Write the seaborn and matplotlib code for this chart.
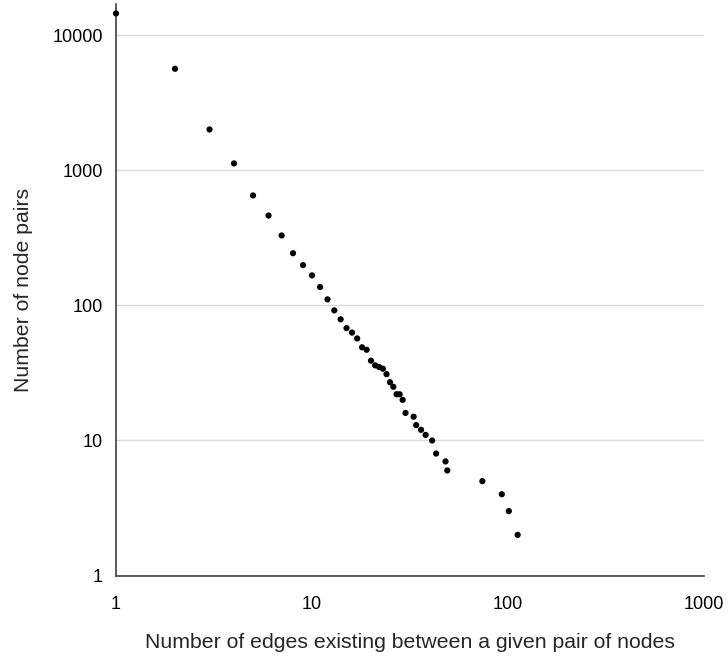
import seaborn as sns
import matplotlib.pyplot as plt
import pandas as pd

sns.set_style('white')
plt.rcParams['font.family'] = ['Liberation Sans', 'DejaVu Sans']

# edges between a pair of nodes vs number of such pairs
edges = [1, 2, 3, 4, 5, 6, 7, 8, 9, 10, 11, 12, 13, 14, 15, 16, 17, 18,
         19, 20, 21, 22, 23, 24, 25, 26, 27, 28, 29, 30,
         33, 34, 36, 38, 41, 43, 48, 49, 74, 93, 101, 112]
pairs = [14560, 5665, 2013, 1128, 653, 464, 330, 244, 199, 167, 137, 111, 92, 79, 68, 63, 57, 49,
         47, 39, 36, 35, 34, 31, 27, 25, 22, 22, 20, 16,
         15, 13, 12, 11, 10, 8, 7, 6, 5, 4, 3, 2]
xticks = [1, 10, 100, 1000]
yticks = [1, 10, 100, 1000, 10000]

df = pd.DataFrame({'edges': edges, 'pairs': pairs})

fig = plt.figure(figsize=(7.28, 6.59), dpi=100)
ax = fig.add_axes([116/728, 1 - 575.5/659, 588/728, 571.5/659])
ax.set_xscale('log')
ax.set_yscale('log')
sns.scatterplot(data=df, x='edges', y='pairs', color='black', s=20, edgecolor='none',
                ax=ax, zorder=3, clip_on=False)
ax.set_xlim(1, 1000)
ax.set_ylim(1, 10 ** 4.233)
ax.set_xticks(xticks)
ax.set_xticklabels([str(t) for t in xticks])
ax.set_yticks(yticks)
ax.set_yticklabels([str(t) for t in yticks])
ax.minorticks_off()
ax.tick_params(axis='both', length=0, labelsize=13, colors='black')
ax.tick_params(axis='x', pad=14.5)
ax.tick_params(axis='y', pad=9.5)
ax.yaxis.grid(True, color='#d9d9d9', linewidth=1)
ax.xaxis.grid(False)
for side in ['top', 'right']:
    ax.spines[side].set_visible(False)
for side in ['left', 'bottom']:
    ax.spines[side].set_color('#404040')
    ax.spines[side].set_linewidth(1.2)
ax.set_xlabel('Number of edges existing between a given pair of nodes', fontsize=15.3, labelpad=15)
ax.set_ylabel('Number of node pairs', fontsize=15.3, labelpad=14)

fig.savefig('out.png', dpi=100)
